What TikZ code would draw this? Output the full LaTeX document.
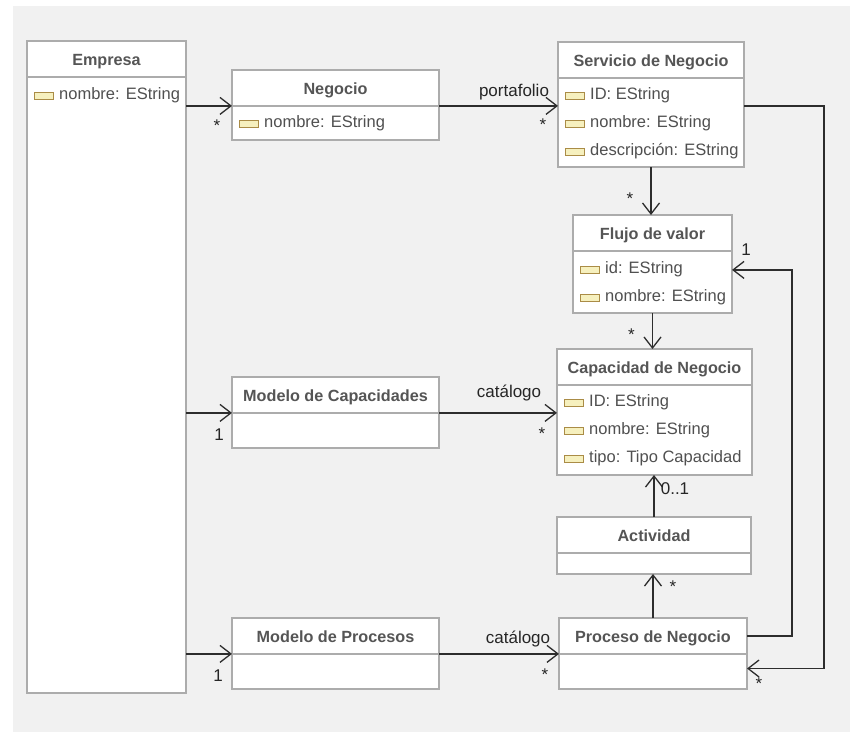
\documentclass[tikz,border=0pt]{standalone}
\usepackage{fontspec}
\setmainfont{Liberation Sans}
\usetikzlibrary{arrows.meta, positioning, calc}
\definecolor{PanelGray}{RGB}{241,241,241}
\definecolor{BoxLine}{RGB}{172,172,172}
\definecolor{TitleText}{RGB}{85,85,85}
\definecolor{AttrText}{RGB}{80,80,80}
\definecolor{IconFill}{RGB}{246,240,190}
\definecolor{IconLine}{RGB}{170,140,70}
\definecolor{LinkLine}{RGB}{45,45,45}

\begin{document}
\begin{tikzpicture}[x=1pt, y=-1pt,
    classbox/.style={draw=BoxLine, fill=white, line width=1.3pt, anchor=north west, inner sep=0pt, outer sep=0pt},
    classtitle/.style={anchor=north, minimum height=35.5pt, inner sep=0pt, text height=17pt, text depth=3pt,
      font=\fontsize{16.2}{19}\selectfont\bfseries, text=TitleText},
    sep/.style={draw=BoxLine, line width=1.3pt},
    attricon/.style={draw=IconLine, fill=IconFill, line width=1pt, minimum width=19pt, minimum height=7pt,
      inner sep=0pt, anchor=west},
    attr/.style={inner sep=0pt, text height=11pt, text depth=3pt, font=\fontsize{16.5}{19}\selectfont, text=AttrText},
    assoc/.style={draw=LinkLine, line width=1.3pt, -{Straight Barb[length=11pt, width=17pt, line width=1.3pt]}},
    mult/.style={inner sep=0pt, font=\fontsize{17}{20}\selectfont, text=black!85}
  ]
  % panel
  \fill[white] (0,0) rectangle (850,732);
  \fill[PanelGray] (13,6) rectangle (850,732);
  \useasboundingbox (0,0) rectangle (850,732);

  % classes
  \foreach \n/\x/\y/\w/\h/\t in {emp/27/41/159/652/Empresa,
      neg/232/70/207/70/Negocio,
      srv/558/42/186/125/Servicio de Negocio,
      flu/573/215/159/98/Flujo de valor,
      cap/557/349/195/126/Capacidad de Negocio,
      act/557/517/194/57/Actividad,
      mcap/232/377/207/71/Modelo de Capacidades,
      mpro/232/618/207/71/Modelo de Procesos,
      pro/559/618/188/71/Proceso de Negocio} {
    \node[classbox, minimum width=\w, minimum height=\h] (\n) at (\x,\y) {};
    \node[classtitle] (\n-t) at (\n.north) {\t};
    \draw[sep] (\n.west |- \n-t.south) -- (\n.east |- \n-t.south);
  }

  % attributes
  \node[attricon] (emp-i1) at ($(emp.west |- emp-t.south)+(7,19)$) {};
  \node[attr, right=5pt of emp-i1] (emp-a1) {nombre: EString};
  \node[attricon] (neg-i1) at ($(neg.west |- neg-t.south)+(7,18)$) {};
  \node[attr, right=5pt of neg-i1] (neg-a1) {nombre: EString};
  \foreach \t [count=\i] in {ID: EString, nombre: EString, descripción: EString} {
    \node[attricon] (srv-i\i) at ($(srv.west |- srv-t.south)+(7,18+28*\i-28)$) {};
    \node[attr, right=5pt of srv-i\i] (srv-a\i) {\t};
  }
  \foreach \t [count=\i] in {id: EString, nombre: EString} {
    \node[attricon] (flu-i\i) at ($(flu.west |- flu-t.south)+(7,19+28*\i-28)$) {};
    \node[attr, right=5pt of flu-i\i] (flu-a\i) {\t};
  }
  \foreach \t [count=\i] in {ID: EString, nombre: EString, tipo: Tipo Capacidad} {
    \node[attricon] (cap-i\i) at ($(cap.west |- cap-t.south)+(7,18+28*\i-28)$) {};
    \node[attr, right=5pt of cap-i\i] (cap-a\i) {\t};
  }

  % associations
  \draw[assoc] (emp.east |- neg-t.south) -- (neg.west |- neg-t.south);
  \node[mult] (m-neg) at ($(neg.west |- neg-t.south)+(-15,20)$) {*};

  \draw[assoc] (neg.east |- neg-t.south) -- (srv.west |- neg-t.south);
  \node[mult] (l-port) at ($(srv.west |- neg-t.south)+(-44,-14)$) {portafolio};
  \node[mult] (m-srv) at ($(srv.west |- neg-t.south)+(-15,19)$) {*};

  \draw[assoc] (srv.south) -- (srv.south |- flu.north);
  \node[mult] (m-flu) at ($(srv.south |- flu.north)+(-21,-16)$) {*};

  \draw[assoc] (flu.south) -- (flu.south |- cap.north);
  \node[mult] (m-cap) at ($(flu.south |- cap.north)+(-21,-14)$) {*};

  \draw[assoc] (emp.east |- mcap-t.south) -- (mcap.west |- mcap-t.south);
  \node[mult] (m-mcap) at ($(mcap.west |- mcap-t.south)+(-13,22)$) {1};

  \draw[assoc] (mcap.east |- mcap-t.south) -- (cap.west |- mcap-t.south);
  \node[mult] (l-cat1) at ($(cap.west |- mcap-t.south)+(-48,-20)$) {catálogo};
  \node[mult] (m-cat1) at ($(cap.west |- mcap-t.south)+(-15,21)$) {*};

  \draw[assoc] (act.north) -- (act.north |- cap.south);
  \node[mult] (m-act1) at ($(act.north |- cap.south)+(21,14)$) {0..1};

  \draw[assoc] (pro.north) -- (pro.north |- act.south);
  \node[mult] (m-act2) at ($(pro.north |- act.south)+(20,13)$) {*};

  \draw[assoc] (emp.east |- mpro-t.south) -- (mpro.west |- mpro-t.south);
  \node[mult] (m-mpro) at ($(mpro.west |- mpro-t.south)+(-14,22)$) {1};

  \draw[assoc] (mpro.east |- mpro-t.south) -- (pro.west |- mpro-t.south);
  \node[mult] (l-cat2) at ($(pro.west |- mpro-t.south)+(-41,-15)$) {catálogo};
  \node[mult] (m-cat2) at ($(pro.west |- mpro-t.south)+(-14,21)$) {*};

  \coordinate (pro-in) at ($(pro.east)+(0,15)$);
  \draw[assoc] (srv.east |- neg-t.south) -| ([xshift=77pt]pro-in) -- (pro-in);
  \node[mult] (m-pro) at ($(pro-in)+(12,15)$) {*};

  \coordinate (flu-in) at (flu.east |- flu-a1);
  \draw[assoc] (pro.east |- pro-t) -| ([xshift=60pt]flu-in) -- (flu-in);
  \node[mult] (m-flu2) at ($(flu-in)+(14,-20)$) {1};
\end{tikzpicture}
\end{document}
